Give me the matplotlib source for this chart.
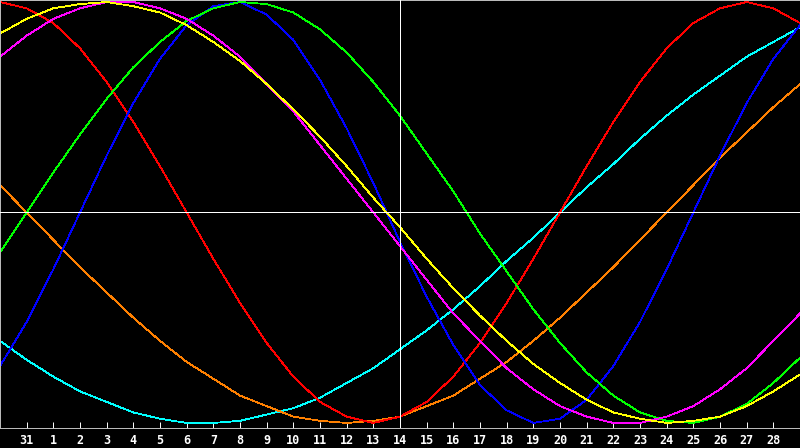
import matplotlib
matplotlib.use('Agg')
import matplotlib.pyplot as plt

# day labels (Jan 30 .. Mar 1), only the inner ones get a tick label
DAYS = [30, 31] + list(range(1, 29)) + [1]
TICK_IDX = list(range(1, 30))
TICK_LABELS = [str(d) for d in DAYS[1:30]]

# values, in percent (-100 .. 100), one per day
red = [100, 97, 90, 78, 62, 43, 22, 0, -22, -43, -62, -78, -90, -97, -100,
       -97, -90, -78, -62, -43, -22, 0, 22, 43, 62, 78, 90, 97, 100, 97, 90]
green = [-19, 0, 19, 37, 54, 69, 81, 91, 97, 100, 99, 95, 87, 76, 62, 46,
         28, 10, -10, -28, -46, -62, -76, -87, -95, -99, -100, -97, -91, -81, -69]
blue = [-73, -52, -27, 0, 27, 52, 73, 89, 98, 100, 94, 82, 63, 40, 14, -14,
        -40, -63, -82, -94, -100, -98, -89, -73, -52, -27, 0, 27, 52, 73, 89]
yellow = [85, 92, 97, 99, 100, 98, 95, 89, 81, 72, 61, 49, 36, 22, 7, -7,
          -22, -36, -49, -61, -72, -81, -89, -95, -98, -100, -99, -97, -92, -85, -77]
magenta = [74, 84, 92, 97, 100, 100, 97, 92, 84, 74, 61, 48, 32, 16, 0, -16,
           -32, -48, -61, -74, -84, -92, -97, -100, -100, -97, -92, -84, -74, -61, -48]
cyan = [-61, -70, -78, -85, -90, -95, -98, -100, -100, -99, -96, -93, -88, -81, -74, -65,
        -56, -46, -35, -23, -12, 0, 12, 23, 35, 46, 56, 65, 74, 81, 88]
orange = [13, 0, -13, -26, -38, -50, -61, -71, -79, -87, -92, -97, -99, -100, -99, -97,
          -92, -87, -79, -71, -61, -50, -38, -26, -13, 0, 13, 26, 38, 50, 61]

SERIES = [
    (cyan, '#00ffff'),
    (orange, '#ff8000'),
    (red, '#ff0000'),
    (blue, '#0000ff'),
    (green, '#00ff00'),
    (magenta, '#ff00ff'),
    (yellow, '#ffff00'),
]

W, H = 800, 448
fig = plt.figure(figsize=(W / 100, H / 100), dpi=100, facecolor='black')
ax = fig.add_axes([0, 20 / H, 1, 428 / H])
ax.set_facecolor('black')

x = list(range(len(DAYS)))
for vals, col in SERIES:
    ax.plot(x, vals, color=col, lw=0.6, antialiased=False, zorder=2)

ax.axhline(0, color='white', lw=0.6, antialiased=False, zorder=3)
ax.axvline(15, color='white', lw=0.6, antialiased=False, zorder=3)

ax.set_xlim(0, 30)
ax.set_ylim(-102.4, 100.95)
ax.set_yticks([])
ax.set_xticks(TICK_IDX)
ax.set_xticklabels(TICK_LABELS, color='white', fontsize=8.5,
                   fontweight='bold', family='DejaVu Sans Mono')
ax.tick_params(axis='x', direction='in', length=4, width=0.7,
               color='white', pad=4)
for s in ax.spines.values():
    s.set_color('#c0c0c0')
    s.set_linewidth(0.7)

fig.savefig('out.png', dpi=100, facecolor='black')
